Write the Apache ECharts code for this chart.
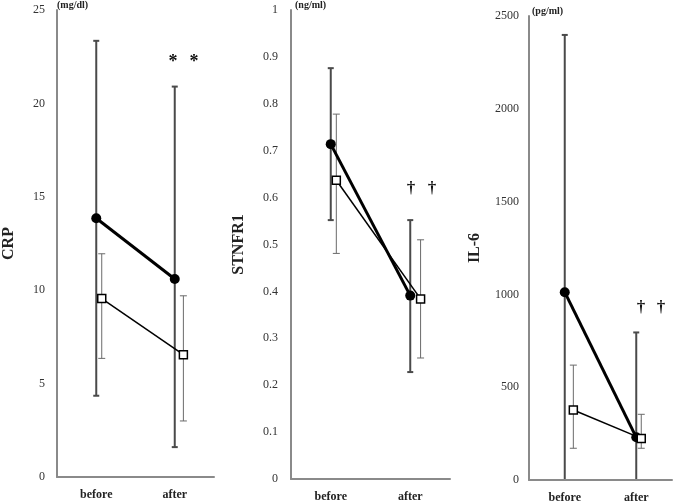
<!DOCTYPE html>
<html>
<head>
<meta charset="utf-8">
<script src="https://cdn.jsdelivr.net/npm/echarts@6/dist/echarts.min.js"></script>
<style>html,body{margin:0;padding:0;background:#fff}#c{width:675px;height:504px}</style>
</head>
<body>
<div id="c"></div>
<script>
// ---- data ----
const categories = ['before', 'after'];
const panelNames = ['CRP', 'STNFR1', 'IL-6'];
const units = ['(mg/dl)', '(ng/ml)', '(pg/ml)'];
const yMax = [25, 1, 2500];
const yInterval = [5, 0.1, 500];

// filled circles (group A)
const crpA = [13.85, 10.6];
const crpA_hi = [23.35, 20.9];
const crpA_lo = [4.35, 1.6];
const stnA = [0.714, 0.391];
const stnA_hi = [0.876, 0.552];
const stnA_lo = [0.552, 0.228];
const il6A = [1012, 230];
const il6A_hi = [2398, 795];
const il6A_lo = [0, 0];

// open squares (group B)
const crpB = [9.55, 6.55];
const crpB_hi = [11.95, 9.7];
const crpB_lo = [6.35, 3.0];
const stnB = [0.637, 0.384];
const stnB_hi = [0.778, 0.51];
const stnB_lo = [0.481, 0.258];
const il6B = [377, 224];
const il6B_hi = [619, 354];
const il6B_lo = [171, 171];

// ---- style / layout ----
const SERIF = '"Liberation Serif", "Times New Roman", serif';
const AXIS_COLOR = '#8a8a8a';
const OPEN_DODGE = [[0.07, 0.11], [0.07, 0.13], [0.12, 0.07]];
const grids = [
  {left: 54, top: 10, width: 160, height: 467},
  {left: 291, top: 10, width: 159, height: 469},
  {left: 529, top: 16, width: 144, height: 464}
];
const nameGaps = [40, 44, 46];
const labelMargins = [12, 13, 10];

const panels = [
  {A: crpA, Ahi: crpA_hi, Alo: crpA_lo, B: crpB, Bhi: crpB_hi, Blo: crpB_lo},
  {A: stnA, Ahi: stnA_hi, Alo: stnA_lo, B: stnB, Bhi: stnB_hi, Blo: stnB_lo},
  {A: il6A, Ahi: il6A_hi, Alo: il6A_lo, B: il6B, Bhi: il6B_hi, Blo: il6B_lo}
];

function errRender(color, width, cap) {
  return function (params, api) {
    const x = api.value(0), lo = api.value(1), hi = api.value(2);
    const p1 = api.coord([x, hi]), p2 = api.coord([x, lo]);
    const st = {stroke: color, lineWidth: width};
    return {type: 'group', children: [
      {type: 'line', shape: {x1: p1[0], y1: p1[1], x2: p2[0], y2: p2[1]}, style: st},
      {type: 'line', shape: {x1: p1[0] - cap, y1: p1[1], x2: p1[0] + cap, y2: p1[1]}, style: st},
      {type: 'line', shape: {x1: p2[0] - cap, y1: p2[1], x2: p2[0] + cap, y2: p2[1]}, style: st}
    ]};
  };
}

const xAxis = [], yAxis = [], series = [];
panels.forEach((p, i) => {
  xAxis.push({
    type: 'value', gridIndex: i, min: -0.5, max: 1.5, interval: 0.5,
    axisLine: {show: true, onZero: false, lineStyle: {color: AXIS_COLOR, width: 2}},
    axisTick: {show: false},
    splitLine: {show: false},
    axisLabel: {fontFamily: SERIF, fontWeight: 'bold', fontSize: 12, color: '#222', margin: 12,
      formatter: v => (Number.isInteger(v) && categories[v] !== undefined) ? categories[v] : ''}
  });
  yAxis.push({
    type: 'value', gridIndex: i, min: 0, max: yMax[i], interval: yInterval[i],
    name: panelNames[i], nameLocation: 'middle', nameGap: nameGaps[i],
    nameTextStyle: {fontFamily: SERIF, fontWeight: 'bold', fontSize: 16, color: '#222'},
    axisLine: {show: true, onZero: false, lineStyle: {color: AXIS_COLOR, width: 2}},
    axisTick: {show: false},
    splitLine: {show: false},
    axisLabel: {fontFamily: SERIF, fontSize: 12, color: '#333', margin: labelMargins[i],
      formatter: v => String(+v.toFixed(4))}
  });
  const d = OPEN_DODGE[i];
  const aPos = categories.map((c, k) => k);
  const bPos = categories.map((c, k) => k + d[k]);
  series.push({
    type: 'custom', xAxisIndex: i, yAxisIndex: i, clip: false, z: 1,
    renderItem: errRender('#4a4a4a', 2, 3),
    encode: {x: 0, y: [1, 2]},
    data: aPos.map((x, k) => [x, p.Alo[k], p.Ahi[k]])
  });
  series.push({
    type: 'custom', xAxisIndex: i, yAxisIndex: i, clip: false, z: 1,
    renderItem: errRender('#6a6a6a', 1, 3.5),
    encode: {x: 0, y: [1, 2]},
    data: bPos.map((x, k) => [x, p.Blo[k], p.Bhi[k]])
  });
  series.push({
    type: 'line', xAxisIndex: i, yAxisIndex: i, z: 3,
    data: aPos.map((x, k) => [x, p.A[k]]),
    symbol: 'circle', symbolSize: 10,
    itemStyle: {color: '#000'},
    lineStyle: {color: '#000', width: 3},
    markLine: {
      silent: true, symbol: ['none', 'none'], animation: false,
      label: {show: false},
      lineStyle: {color: AXIS_COLOR, width: 2, type: 'solid'},
      data: [{yAxis: 0}]
    },
    animation: false
  });
  series.push({
    type: 'line', xAxisIndex: i, yAxisIndex: i, z: 4,
    data: bPos.map((x, k) => [x, p.B[k]]),
    symbol: 'rect', symbolSize: 8,
    itemStyle: {color: '#fff', borderColor: '#000', borderWidth: 1.5},
    lineStyle: {color: '#000', width: 1.5},
    animation: false
  });
});

const graphic = [
  {type: 'text', left: 57, top: 0, style: {text: units[0], font: 'bold 10px ' + SERIF, fill: '#222'}},
  {type: 'text', left: 295, top: 0, style: {text: units[1], font: 'bold 10px ' + SERIF, fill: '#222'}},
  {type: 'text', left: 532, top: 6, style: {text: units[2], font: 'bold 10px ' + SERIF, fill: '#222'}},
  {type: 'text', x: 173, y: 62, style: {text: '*', font: 'bold 18px ' + SERIF, fill: '#111', align: 'center', verticalAlign: 'middle'}},
  {type: 'text', x: 194, y: 62, style: {text: '*', font: 'bold 18px ' + SERIF, fill: '#111', align: 'center', verticalAlign: 'middle'}},
  {type: 'text', x: 411, y: 189, style: {text: '†', font: 'bold 17px ' + SERIF, fill: '#111', align: 'center', verticalAlign: 'middle'}},
  {type: 'text', x: 432, y: 189, style: {text: '†', font: 'bold 17px ' + SERIF, fill: '#111', align: 'center', verticalAlign: 'middle'}},
  {type: 'text', x: 641, y: 308, style: {text: '†', font: 'bold 17px ' + SERIF, fill: '#111', align: 'center', verticalAlign: 'middle'}},
  {type: 'text', x: 661, y: 308, style: {text: '†', font: 'bold 17px ' + SERIF, fill: '#111', align: 'center', verticalAlign: 'middle'}}
];

const chart = echarts.init(document.getElementById('c'), null, {renderer: 'canvas'});
chart.setOption({
  backgroundColor: '#fff',
  animation: false,
  grid: grids,
  xAxis: xAxis,
  yAxis: yAxis,
  series: series,
  graphic: graphic
});
</script>
</body>
</html>
